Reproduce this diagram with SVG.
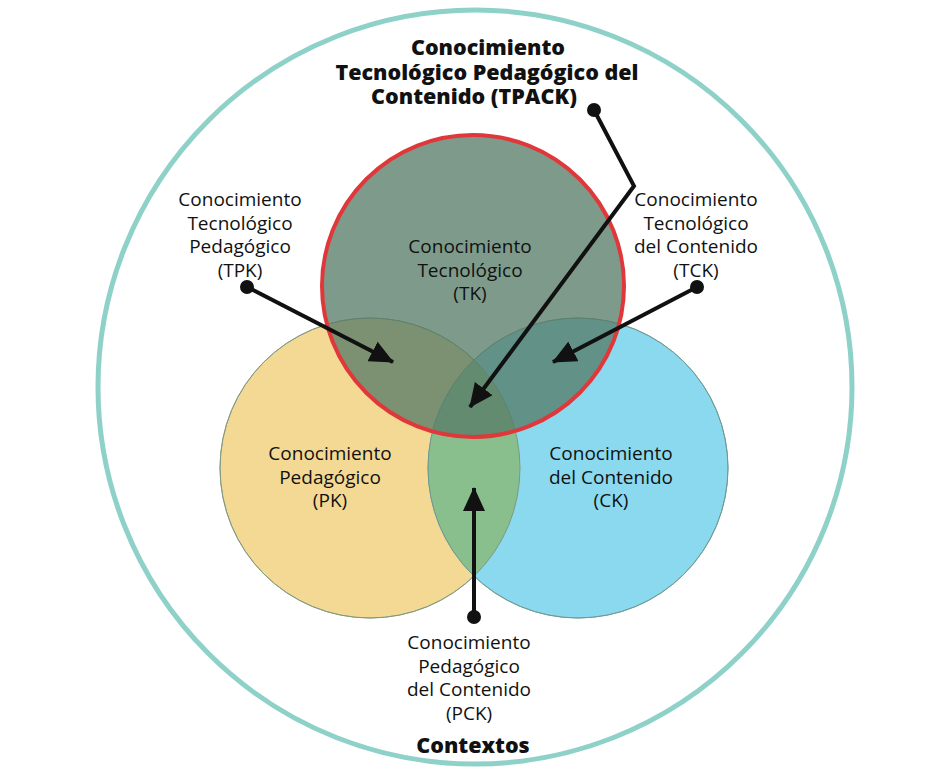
<svg xmlns="http://www.w3.org/2000/svg" width="950" height="783" viewBox="0 0 950 783">
<style>
.t{font-family:"Open Sans","Noto Sans","Liberation Sans",sans-serif;font-size:19px;fill:#111;text-anchor:middle}
.b{font-weight:800;font-size:21.5px}
.ln{stroke:#111;stroke-width:4;fill:none}
</style>
<defs>
<marker id="ah" markerWidth="26" markerHeight="22" refX="23" refY="11" orient="auto" markerUnits="userSpaceOnUse" viewBox="0 0 26 22">
<path d="M0,0 L24,11 L0,22 z" fill="#111"/>
</marker>
<clipPath id="pkc"><circle cx="370" cy="468" r="150"/></clipPath>
</defs>
<rect width="950" height="783" fill="#fff"/>
<g id="contextos">
<circle cx="475" cy="387" r="377" fill="none" stroke="#8ed1c9" stroke-width="5"/>
<text class="t b" x="473" y="753">Contextos</text>
</g>
<g id="pk">
<circle cx="370" cy="468" r="150" fill="#f4d995" stroke="#a8a48a" stroke-width="1"/>
</g>
<g id="ck">
<circle cx="578" cy="468" r="150" fill="#8ad9ef" stroke="#7aa8b0" stroke-width="1"/>
</g>
<g id="pck-area">
<circle cx="578" cy="468" r="150" fill="#89be8d" clip-path="url(#pkc)"/>
<circle cx="370" cy="468" r="150" fill="none" stroke="#7c9a80" stroke-width="1"/>
<circle cx="578" cy="468" r="150" fill="none" stroke="#6f9a90" stroke-width="1"/>
</g>
<g id="tk">
<circle cx="473" cy="286" r="151" fill="#557a66" fill-opacity="0.76" stroke="#e0383a" stroke-width="4"/>
<text class="t" x="470" y="253">Conocimiento</text>
<text class="t" x="470" y="276.5">Tecnológico</text>
<text class="t" x="470" y="300">(TK)</text>
</g>
<g id="pk-label">
<text class="t" x="330" y="460">Conocimiento</text>
<text class="t" x="330" y="483.5">Pedagógico</text>
<text class="t" x="330" y="507">(PK)</text>
</g>
<g id="ck-label">
<text class="t" x="611" y="460">Conocimiento</text>
<text class="t" x="611" y="483.5">del Contenido</text>
<text class="t" x="611" y="507">(CK)</text>
</g>
<g id="tpack">
<text class="t b" x="488" y="55">Conocimiento</text>
<text class="t b" x="487" y="79.5">Tecnológico Pedagógico del</text>
<text class="t b" x="474" y="104">Contenido (TPACK)</text>
</g>
<g id="tpk">
<text class="t" x="240" y="206">Conocimiento</text>
<text class="t" x="240" y="229.5">Tecnológico</text>
<text class="t" x="240" y="253">Pedagógico</text>
<text class="t" x="240" y="276.5">(TPK)</text>
</g>
<g id="tck">
<text class="t" x="696" y="206">Conocimiento</text>
<text class="t" x="696" y="229.5">Tecnológico</text>
<text class="t" x="696" y="253">del Contenido</text>
<text class="t" x="696" y="276.5">(TCK)</text>
</g>
<g id="pck">
<text class="t" x="469" y="649">Conocimiento</text>
<text class="t" x="469" y="672.5">Pedagógico</text>
<text class="t" x="469" y="696">del Contenido</text>
<text class="t" x="469" y="719.5">(PCK)</text>
</g>
<g id="connectors">
<polyline class="ln" points="594,110 634,186 470,407" marker-end="url(#ah)"/>
<circle cx="594" cy="110" r="7" fill="#111"/>
<line class="ln" x1="247" y1="287" x2="393" y2="362" marker-end="url(#ah)"/>
<circle cx="247" cy="287" r="7" fill="#111"/>
<line class="ln" x1="697" y1="287" x2="553" y2="362" marker-end="url(#ah)"/>
<circle cx="697" cy="287" r="7" fill="#111"/>
<line class="ln" x1="474" y1="617" x2="474" y2="488" marker-end="url(#ah)"/>
<circle cx="474" cy="617" r="7" fill="#111"/>
</g>
</svg>
